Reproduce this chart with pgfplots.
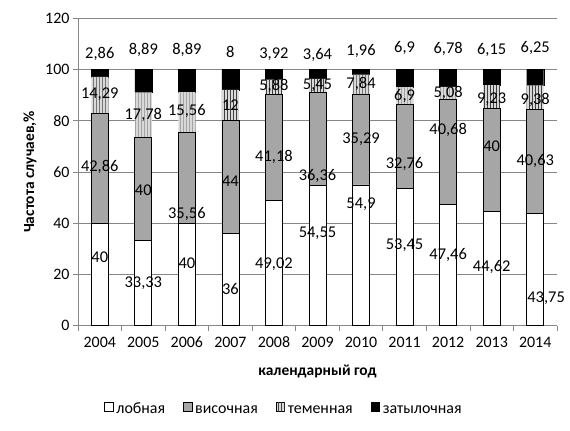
\documentclass[border=0pt]{standalone}
\usepackage{pgfplots}
\pgfplotsset{compat=1.18}
\usepackage{fontspec}
\setmainfont{Carlito}
\usetikzlibrary{patterns}
\definecolor{axgray}{HTML}{868686}
\definecolor{midgray}{HTML}{A6A6A6}
\begin{document}
\begin{tikzpicture}
\path[use as bounding box] (-78bp,-105.5bp) rectangle (492bp,325.5bp);
\begin{axis}[
  at={(0,0)}, anchor=south west,
  scale only axis, width=479bp, height=307.2bp,
  ybar stacked, bar width=17bp,
  xmin=-0.5, xmax=10.5, ymin=0, ymax=120,
  ytick={0,20,...,120},
  xtick={0,...,10},
  xticklabels={2004,2005,2006,2007,2008,2009,2010,2011,2012,2013,2014},
  minor xtick={-0.5,0.5,...,10.5},
  major x tick style={draw=none},
  minor x tick style={axgray, line width=0.75bp},
  minor tick length=5bp,
  y tick style={axgray, line width=0.75bp},
  major tick length=5bp,
  tick align=outside,
  axis x line*=bottom, axis y line*=left,
  axis line style={axgray, line width=0.75bp, -},
  ymajorgrids, grid style={axgray, line width=0.75bp},
  /pgf/number format/assume math mode=true,
  tick label style={font=\fontsize{16}{18}\selectfont},
  xticklabel style={yshift=-3bp},
  xlabel={\textbf{календарный год}},
  ylabel={\textbf{Частота случаев,\%}},
  xlabel style={at={(axis description cs:0.5,-0.151)}, anchor=center, font=\fontsize{15.5}{18}\selectfont},
  ylabel style={at={(axis description cs:-0.1,0.5)}, anchor=center, font=\fontsize{15.5}{18}\selectfont},
  legend style={draw=none, at={(0.43,-0.274)}, anchor=center, legend columns=4,
    font=\fontsize{16}{18}\selectfont,
    nodes={text height=1.5ex, text depth=0.25ex},
    /tikz/every even column/.append style={column sep=16bp},
    /tikz/every odd column/.append style={column sep=1bp}},
  legend image code/.code={\draw[#1, line width=0.6bp] (3bp,-0.5bp) rectangle (11.5bp,8bp);},
]
\addplot[fill=white, draw=black, line width=0.75bp] coordinates {
(0,40) (1,33.33) (2,40) (3,36) (4,49.02) (5,54.55) (6,54.9) (7,53.45) (8,47.46) (9,44.62) (10,43.75)};
\addlegendentry{лобная}
\addplot[fill=midgray, draw=black, line width=0.75bp] coordinates {
(0,42.86) (1,40) (2,35.56) (3,44) (4,41.18) (5,36.36) (6,35.29) (7,32.76) (8,40.68) (9,40) (10,40.63)};
\addlegendentry{височная}
\addplot[fill=gray!30, draw=none, postaction={pattern=vertical lines, pattern color=gray!50!black}] coordinates {
(0,14.29) (1,17.78) (2,15.56) (3,12) (4,5.88) (5,5.45) (6,7.84) (7,6.9) (8,5.08) (9,9.23) (10,9.38)};
\addlegendentry{теменная}
\addplot[fill=black, draw=black] coordinates {
(0,2.86) (1,8.89) (2,8.89) (3,8) (4,3.92) (5,3.64) (6,1.96) (7,6.9) (8,6.78) (9,6.15) (10,6.25)};
\addlegendentry{затылочная}
\end{axis}
\begin{axis}[
  at={(0,0)}, anchor=south west,
  scale only axis, width=479bp, height=307.2bp,
  xmin=-0.5, xmax=10.5, ymin=0, ymax=120,
  hide axis,
  nodes near coords, point meta=explicit symbolic,
  every node near coord/.style={anchor=center, font=\fontsize{16.5}{18}\selectfont, inner sep=0pt},
]
\addplot[draw=none, mark=none] coordinates {
(0,26.5)[40] (1,16.6)[33,33] (2,24.4)[40] (3,14.2)[36] (4,23.9)[49,02] (5,36.2)[54,55]
(6,47.2)[54,9] (7,31.4)[53,45] (8,27.5)[47,46] (9,22.9)[44,62] (10.25,10.7)[43,75]};
\addplot[draw=none, mark=none] coordinates {
(0,62)[42,86] (1,53)[40] (2,43.7)[35,56] (3,56.3)[44] (4,66)[41,18] (5,58.3)[36,36]
(6,72.6)[35,29] (7,63)[32,76] (8,76.5)[40,68] (9,70)[40] (10,64.1)[40,63]};
\addplot[draw=none, mark=none] coordinates {
(0,90.5)[14,29] (1,82.4)[17,78] (2,83.7)[15,56] (3,86)[12] (4,93.4)[5,88] (5,93.8)[5,45]
(6,94.4)[7,84] (7,89.6)[6,9] (8,90.9)[5,08] (9,88.3)[9,23] (10,88.3)[9,38]};
\addplot[draw=none, mark=none] coordinates {
(0,106)[2,86] (1,107.7)[8,89] (2,107.7)[8,89] (3,107)[8] (4,106.1)[3,92] (5,105.8)[3,64]
(6,107.4)[1,96] (7,108.5)[6,9] (8,108)[6,78] (9,107.7)[6,15] (10,108.3)[6,25]};
\end{axis}
\end{tikzpicture}
\end{document}
